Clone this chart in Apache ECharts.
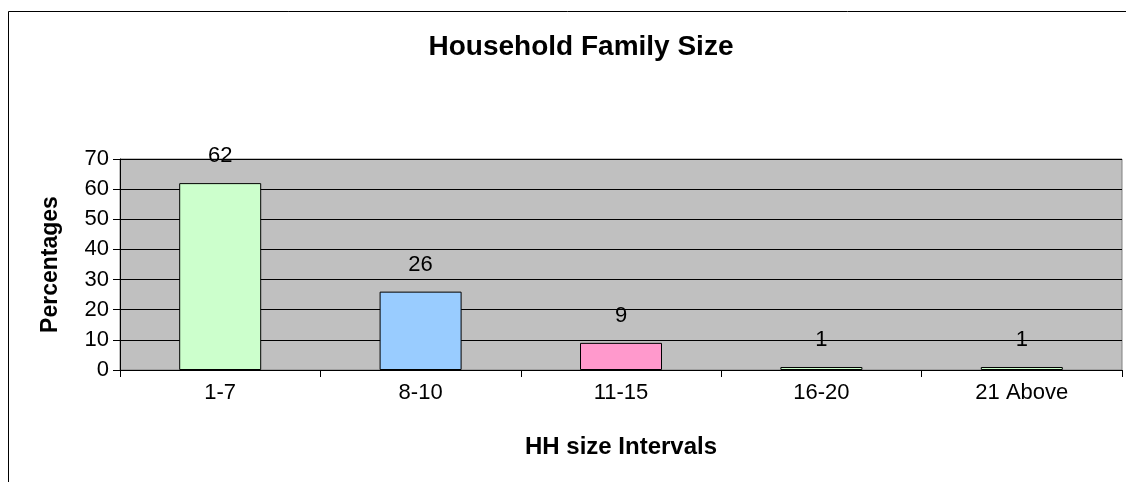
<!DOCTYPE html>
<html>
<head>
<meta charset="utf-8">
<script src="https://cdn.jsdelivr.net/npm/echarts@6/dist/echarts.min.js"></script>
<style>
  html, body { margin: 0; padding: 0; background: #fff; }
  #chart { width: 1126px; height: 482px; }
</style>
</head>
<body>
<div id="chart"></div>
<script>
// Household size intervals and share of households (%)
const categories = ['1-7', '8-10', '11-15', '16-20', '21 Above'];
const percentages = [62, 26, 9, 1, 1];
const barColors = ['#CCFFCC', '#99CCFF', '#FF99CC', '#CCFFCC', '#CCFFCC'];
const yTicks = [0, 10, 20, 30, 40, 50, 60, 70];

const FONT = 'Liberation Sans, Arial, sans-serif';

const chart = echarts.init(document.getElementById('chart'), null, { renderer: 'canvas' });

chart.setOption({
  animation: false,
  backgroundColor: '#ffffff',
  title: {
    text: 'Household Family Size',
    left: 576,
    top: 28,
    textAlign: 'center',
    textStyle: { fontFamily: FONT, fontSize: 28, fontWeight: 'bold', color: '#000' }
  },
  graphic: [{
    type: 'rect',
    shape: { x: 8.5, y: 11.5, width: 1140, height: 500 },
    style: { fill: 'none', stroke: '#000', lineWidth: 1 },
    silent: true,
    z: -10
  }],
  grid: {
    left: 120,
    top: 159,
    width: 1002,
    height: 211,
    show: true,
    backgroundColor: '#C0C0C0',
    borderColor: '#808080',
    borderWidth: 1
  },
  xAxis: {
    type: 'category',
    data: categories,
    name: 'HH size Intervals',
    nameLocation: 'middle',
    nameGap: 65,
    nameTextStyle: { fontFamily: FONT, fontSize: 24, fontWeight: 'bold', color: '#000' },
    axisLine: { show: true, lineStyle: { color: '#000', width: 1 } },
    axisTick: { show: true, alignWithLabel: false, length: 7, lineStyle: { color: '#000' } },
    axisLabel: { fontFamily: FONT, fontSize: 22, color: '#000', margin: 12 },
    splitLine: { show: false }
  },
  yAxis: {
    type: 'value',
    min: 0,
    max: 70,
    interval: 10,
    name: 'Percentages',
    nameLocation: 'middle',
    nameGap: 58,
    nameRotate: 90,
    nameTextStyle: { fontFamily: FONT, fontSize: 23, fontWeight: 'bold', color: '#000' },
    axisLine: { show: true, lineStyle: { color: '#000', width: 1 } },
    axisTick: { show: true, length: 7, inside: false, lineStyle: { color: '#000' } },
    axisLabel: {
      fontFamily: FONT, fontSize: 22, color: '#000', margin: 11,
      formatter: v => (yTicks.includes(v) ? String(v) : '')
    },
    splitLine: { show: true, lineStyle: { color: '#000', width: 1 } }
  },
  series: [{
    type: 'bar',
    data: percentages.map((v, i) => ({ value: v, itemStyle: { color: barColors[i] } })),
    barWidth: 82,
    itemStyle: { borderColor: '#000', borderWidth: 1 },
    label: {
      show: true,
      position: 'top',
      distance: 16,
      fontFamily: FONT,
      fontSize: 22,
      color: '#000'
    }
  }]
});
</script>
</body>
</html>
